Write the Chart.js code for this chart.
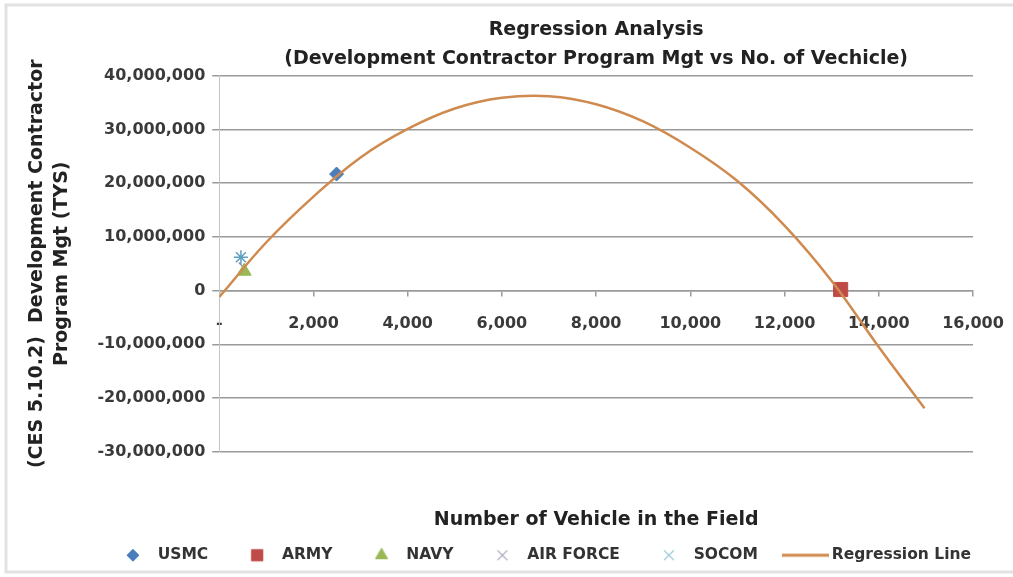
<!DOCTYPE html>
<html>
<head>
<meta charset="utf-8">
<title>Regression Analysis</title>
<script src="https://cdn.jsdelivr.net/npm/chart.js@4.4.1/dist/chart.umd.min.js"></script>
<style>
  html,body{margin:0;padding:0;background:#fff;}
  #wrap{width:1013px;height:577px;position:relative;}
</style>
</head>
<body>
<div id="wrap"><canvas id="chart"></canvas></div>
<script>
// values
const seriesNames = ["USMC", "ARMY", "NAVY", "AIR FORCE", "SOCOM"];
const usmcX = [2490];
const usmcY = [21700000];
const armyX = [13190];
const armyY = [200000];
const navyX = [530];
const navyY = [3600000];
const airForceX = [520];
const airForceY = [4300000];
const socomX = [460];
const socomY = [6200000];

// points
const regX = [0, 1000, 2000, 3000, 4000, 5000, 6000, 7000, 8000, 9000, 10000, 11000, 12000, 13000, 14000, 14970];
const regY = [-1200000, 9000000, 17500000, 24800000, 30100000, 33900000, 35900000, 36200000, 34700000, 31500000,
              26600000, 20400000, 12100000, 1800000, -10500000, -21900000];

const xTicks = { min: 0, max: 16000, step: 2000 };
const yTicks = { min: -30000000, max: 40000000, step: 10000000 };

const FONT = "'DejaVu Sans', sans-serif";
const LINE_COLOR = "#cf8a4f";
const pts = (xs, ys) => xs.map((x, i) => ({ x: x, y: ys[i] }));
const fmt = (v) => Number(v).toLocaleString("en-US");

// legend swatches: marker drawn a bit right of the box centre
const BOX_W = 54;
const MARK_DX = 10;
function markerImg(style, radius, color, bw){
  const half = MARK_DX + radius + 3;
  const cv = document.createElement("canvas");
  cv.width = half * 2;
  cv.height = radius * 2 + 6;
  const c = cv.getContext("2d");
  c.fillStyle = color;
  c.strokeStyle = color;
  c.lineWidth = bw;
  Chart.helpers.drawPoint(c, { pointStyle: style, radius: radius, rotation: 0, borderWidth: bw }, half + MARK_DX, cv.height / 2);
  return cv;
}
function lineImg(){
  const cv = document.createElement("canvas");
  cv.width = 68;
  cv.height = 6;
  const c = cv.getContext("2d");
  c.strokeStyle = LINE_COLOR;
  c.lineWidth = 3;
  c.beginPath();
  c.moveTo(19, 3);
  c.lineTo(66, 3);
  c.stroke();
  return cv;
}
const legendMarks = [
  markerImg("rectRot", 6, "#4a7ebb", 1),
  markerImg("rect", 8, "#be4b48", 1),
  markerImg("triangle", 7, "#98b954", 1),
  markerImg("crossRot", 7, "#a4a0b4", 1.2),
  markerImg("crossRot", 7, "#8fc4d2", 1.2),
  lineImg()
];

const frame = {
  id: "frame",
  beforeDraw(chart){
    const ctx = chart.ctx;
    ctx.save();
    ctx.fillStyle = "#fff";
    ctx.fillRect(0, 0, chart.width, chart.height);
    ctx.restore();
  },
  afterDraw(chart){
    const ctx = chart.ctx;
    ctx.save();
    ctx.strokeStyle = "#e2e2e2";
    ctx.lineWidth = 3;
    ctx.strokeRect(6, 5, chart.width - 4, chart.height - 10);
    ctx.restore();
  }
};

Chart.defaults.font.family = FONT;
Chart.defaults.color = "#333";

const ctx = document.getElementById("chart").getContext("2d");
new Chart(ctx, {
  type: "scatter",
  data: {
    datasets: [
      { label: seriesNames[0], data: pts(usmcX, usmcY), pointStyle: "rectRot", pointRadius: 7, backgroundColor: "#4a7ebb", borderColor: "#4a7ebb", order: 1 },
      { label: seriesNames[1], data: pts(armyX, armyY), pointStyle: "rect", pointRadius: 10, backgroundColor: "#be4b48", borderColor: "#be4b48", order: 1 },
      { label: seriesNames[2], data: pts(navyX, navyY), pointStyle: "triangle", pointRadius: 8, backgroundColor: "#98b954", borderColor: "#98b954", order: 1 },
      { label: seriesNames[3], data: pts(airForceX, airForceY), pointStyle: "crossRot", pointRadius: 7, borderWidth: 1.5, backgroundColor: "#9a8fb0", borderColor: "#9a8fb0", order: 1 },
      { label: seriesNames[4], data: pts(socomX, socomY), pointStyle: "star", pointRadius: 7, borderWidth: 1.5, backgroundColor: "#5f9fc0", borderColor: "#5f9fc0", order: 1 },
      { label: "Regression Line", type: "line", data: pts(regX, regY), showLine: true, pointRadius: 0,
        borderColor: LINE_COLOR, backgroundColor: LINE_COLOR, borderWidth: 2.5, tension: 0.4, fill: false, order: 0 }
    ]
  },
  options: {
    responsive: true,
    maintainAspectRatio: false,
    animation: false,
    layout: { padding: { left: 25, right: 30, top: 3, bottom: 4 } },
    plugins: {
      tooltip: { enabled: false },
      title: {
        display: true,
        fullSize: false,
        text: ["Regression Analysis", "(Development Contractor Program Mgt vs No. of Vechicle)"],
        font: { size: 19, weight: "bold", family: FONT, lineHeight: 1.52 },
        color: "#222",
        padding: { top: 13, bottom: 2 }
      },
      subtitle: {
        display: true,
        position: "bottom",
        fullSize: false,
        weight: 500,
        text: "Number of Vehicle in the Field",
        font: { size: 19, weight: "bold", family: FONT },
        color: "#222",
        padding: { top: 57, bottom: 4 }
      },
      legend: {
        position: "bottom",
        align: "end",
        labels: {
          usePointStyle: true,
          pointStyleWidth: BOX_W,
          padding: 12,
          color: "#333",
          font: { size: 15.5, weight: "bold", family: FONT },
          generateLabels(chart){
            const items = Chart.defaults.plugins.legend.labels.generateLabels(chart);
            items.sort((a, b) => a.datasetIndex - b.datasetIndex);
            items.forEach(it => { it.pointStyle = legendMarks[it.datasetIndex]; it.rotation = 0; });
            return items;
          }
        }
      }
    },
    scales: {
      x: {
        type: "linear",
        position: { y: 0 },
        min: xTicks.min,
        max: xTicks.max,
        ticks: {
          stepSize: xTicks.step,
          padding: 9,
          maxRotation: 0,
          color: "#3a3a3a",
          font: { size: 16, weight: "bold", family: FONT, lineHeight: 2.4 },
          callback: (v) => v === 0 ? "-" : fmt(v)
        },
        grid: { drawOnChartArea: false, drawTicks: true, tickLength: 5, color: "#9a9a9a", lineWidth: 1.5 },
        border: { color: "#9a9a9a", width: 1.5 }
      },
      y: {
        type: "linear",
        min: yTicks.min,
        max: yTicks.max,
        title: {
          display: true,
          text: ["(CES 5.10.2)  Development Contractor", "Program Mgt (TYS)"],
          font: { size: 19, weight: "bold", family: FONT, lineHeight: 1.3 },
          color: "#222",
          padding: { top: 0, bottom: 16 }
        },
        ticks: {
          stepSize: yTicks.step,
          padding: 7,
          color: "#3a3a3a",
          font: { size: 16, weight: "bold", family: FONT },
          callback: (v) => fmt(v)
        },
        grid: { color: "#9a9a9a", lineWidth: 1.5, tickLength: 7 },
        border: { color: "#c4c4c4", width: 1 }
      },
      // empty right-hand spacer so the plot ends where the reference's does
      spacer: {
        type: "linear",
        position: "right",
        display: true,
        ticks: { display: false },
        grid: { display: false },
        border: { display: false },
        afterFit(scale){ scale.width = 10; }
      }
    }
  },
  plugins: [frame]
});
</script>
</body>
</html>
